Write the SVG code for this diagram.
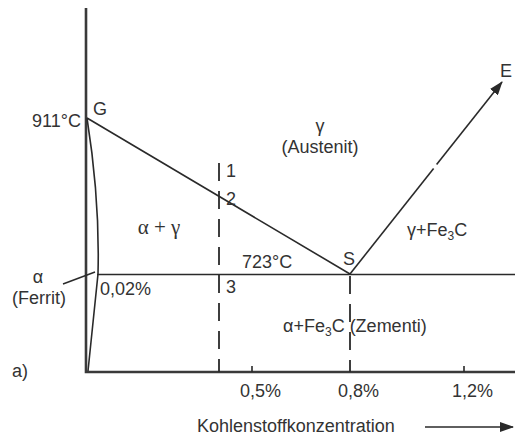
<svg xmlns="http://www.w3.org/2000/svg" width="515" height="437" viewBox="0 0 515 437">
<style>
text{font-family:"Liberation Sans",Arial,sans-serif;font-size:18px;fill:#333}
.serif{font-family:"Liberation Serif","Times New Roman",serif;font-size:21px}
.ln{stroke:#2a2a2a;stroke-width:1.6;fill:none}
.ax{stroke:#3a3a3a;stroke-width:2.6;fill:none}
.dash{stroke:#2a2a2a;stroke-width:1.8;fill:none;stroke-dasharray:18 10}
</style>
<defs>
<marker id="ah" markerWidth="14" markerHeight="10" refX="13" refY="5" orient="auto" markerUnits="userSpaceOnUse">
<path d="M0,0 L14,5 L0,10 Z" fill="#2a2a2a"/>
</marker>
</defs>
<rect width="515" height="437" fill="#fff"/>
<g id="axes">
<path class="ax" d="M86,8 V372 H515"/>
<path class="ln" d="M252,372 V366 M464,372 V366"/>
</g>
<g id="connectors">
<path class="ln" d="M87,118 L350,274"/>
<path class="ln" d="M97,274.5 H515"/>
<path class="ln" d="M87,118 Q100,200 98,274 L88,371"/>
<path class="ln" d="M63,284 L95,272"/>
<path class="ln" d="M350,274 L433.6,168.4"/>
<path class="ln" d="M436.6,164.6 L502,82" marker-end="url(#ah)"/>
<path class="dash" d="M219,163 V372"/>
<path class="dash" d="M350,276 V372"/>
<path class="ln" d="M425,427 H513" marker-end="url(#ah)"/>
</g>
<g id="labels">
<text x="32" y="127">911°C</text>
<text x="93" y="115">G</text>
<text x="320" y="132" text-anchor="middle">γ</text>
<text x="320" y="153" text-anchor="middle">(Austenit)</text>
<text class="serif" x="159" y="234" text-anchor="middle">α + γ</text>
<text x="226" y="177">1</text>
<text x="226" y="205">2</text>
<text x="226" y="293">3</text>
<text x="242" y="268">723°C</text>
<text x="343" y="265">S</text>
<text x="407" y="236">γ+Fe<tspan font-size="12" dy="4">3</tspan><tspan dy="-4">C</tspan></text>
<text x="500" y="77">E</text>
<text x="38" y="283" text-anchor="middle" font-size="16">α</text>
<text x="12" y="304">(Ferrit)</text>
<text x="100" y="295">0,02%</text>
<text x="283" y="332">α+Fe<tspan font-size="12" dy="4">3</tspan><tspan dy="-4">C (Zementi)</tspan></text>
<text x="12" y="377" font-size="16">a)</text>
<text x="240" y="397">0,5%</text>
<text x="338" y="397">0,8%</text>
<text x="452" y="397">1,2%</text>
<text x="197" y="432">Kohlenstoffkonzentration</text>
</g>
</svg>
